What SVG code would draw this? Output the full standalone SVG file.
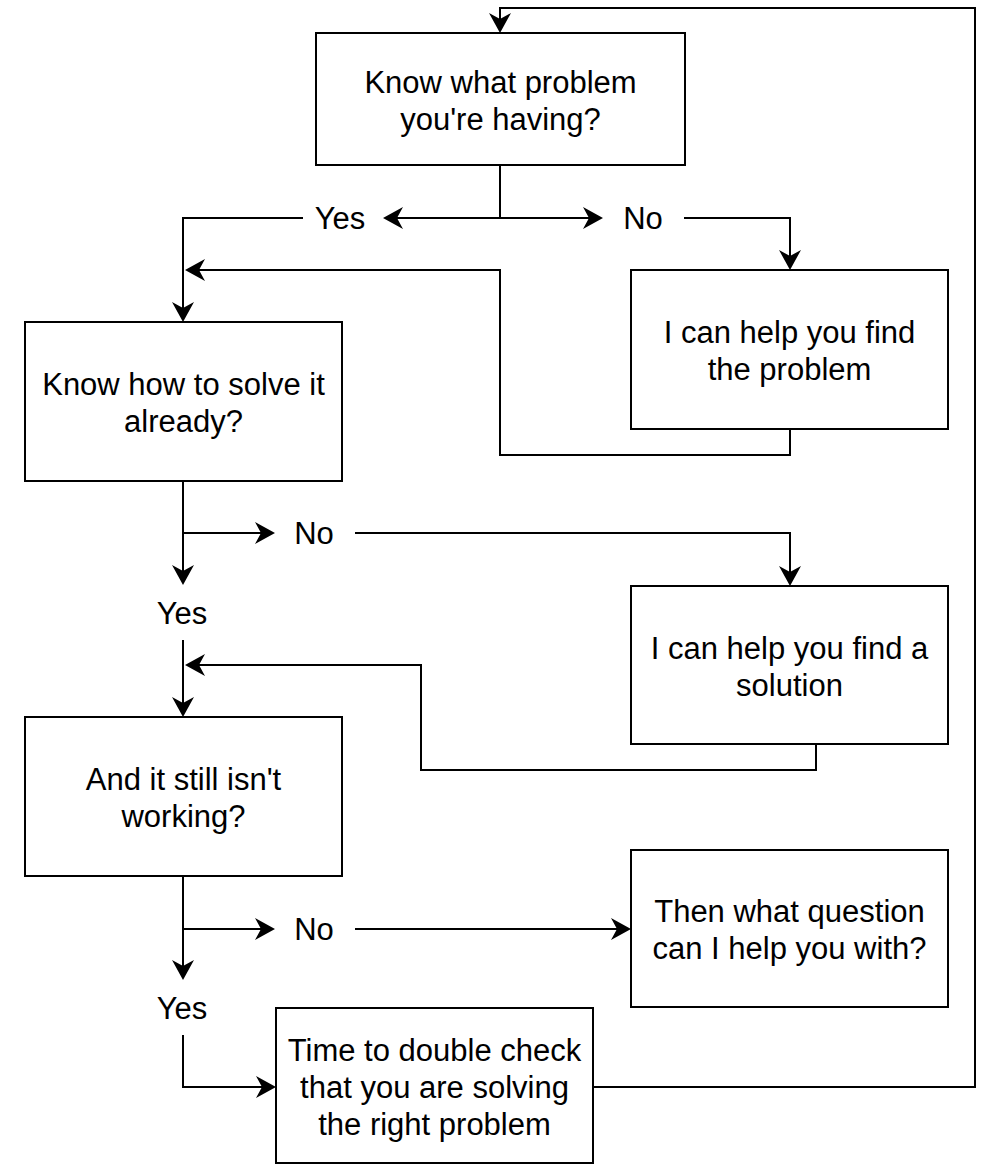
<svg xmlns="http://www.w3.org/2000/svg" width="984" height="1165" viewBox="0 0 984 1165">
<style>
.box{fill:#fff;stroke:#000;stroke-width:2}
.t{font-family:"Liberation Sans",Arial,sans-serif;font-size:31px;fill:#000;text-anchor:middle}
.c{fill:none;stroke:#000;stroke-width:2;marker-end:url(#arr)}
.n{fill:none;stroke:#000;stroke-width:2}
</style>
<defs>
<marker id="arr" markerUnits="userSpaceOnUse" viewBox="0 0 20 22" refX="10" refY="11" markerWidth="20" markerHeight="22" orient="auto">
<path d="M0,0 L20,11 L0,22 L6,11 Z" fill="#000"/>
</marker>
</defs>
<rect width="984" height="1165" fill="#fff"/>
<g id="connectors">
<path class="c" d="M593,1087 H975 V8 H500 V23"/>
<path class="c" d="M500,165 V218 H393"/>
<path class="c" d="M500,218 H593"/>
<path class="c" d="M303,218 H183 V312"/>
<path class="c" d="M684,218 H790 V260"/>
<path class="c" d="M790,429 V455 H500 V270 H195"/>
<path class="c" d="M183,481 V575"/>
<path class="c" d="M183,533 H265"/>
<path class="c" d="M355,533 H790 V576"/>
<path class="c" d="M183,640 V707"/>
<path class="c" d="M816,744 V770 H421 V665 H195"/>
<path class="c" d="M183,876 V970"/>
<path class="c" d="M183,929 H265"/>
<path class="c" d="M355,929 H621"/>
<path class="c" d="M183,1035 V1087 H266"/>
<text class="t" x="340" y="229">Yes</text>
<text class="t" x="643" y="229">No</text>
<text class="t" x="314" y="544">No</text>
<text class="t" x="182" y="624">Yes</text>
<text class="t" x="314" y="940">No</text>
<text class="t" x="182" y="1019">Yes</text>
</g>
<g id="n1">
<rect class="box" x="316" y="33" width="369" height="132"/>
<text class="t" x="500.5" y="92.5">Know what problem</text>
<text class="t" x="500.5" y="129.5">you're having?</text>
</g>
<g id="n2">
<rect class="box" x="25" y="322" width="317" height="159"/>
<text class="t" x="183.5" y="395">Know how to solve it</text>
<text class="t" x="183.5" y="432">already?</text>
</g>
<g id="n3">
<rect class="box" x="631" y="270" width="317" height="159"/>
<text class="t" x="789.5" y="343">I can help you find</text>
<text class="t" x="789.5" y="380">the problem</text>
</g>
<g id="n4">
<rect class="box" x="631" y="586" width="317" height="158"/>
<text class="t" x="789.5" y="658.5">I can help you find a</text>
<text class="t" x="789.5" y="695.5">solution</text>
</g>
<g id="n5">
<rect class="box" x="25" y="717" width="317" height="159"/>
<text class="t" x="183.5" y="790">And it still isn't</text>
<text class="t" x="183.5" y="827">working?</text>
</g>
<g id="n6">
<rect class="box" x="631" y="850" width="317" height="157"/>
<text class="t" x="789.5" y="922">Then what question</text>
<text class="t" x="789.5" y="959">can I help you with?</text>
</g>
<g id="n7">
<rect class="box" x="276" y="1008" width="317" height="155"/>
<text class="t" x="434.5" y="1061">Time to double check</text>
<text class="t" x="434.5" y="1098">that you are solving</text>
<text class="t" x="434.5" y="1135">the right problem</text>
</g>
</svg>
